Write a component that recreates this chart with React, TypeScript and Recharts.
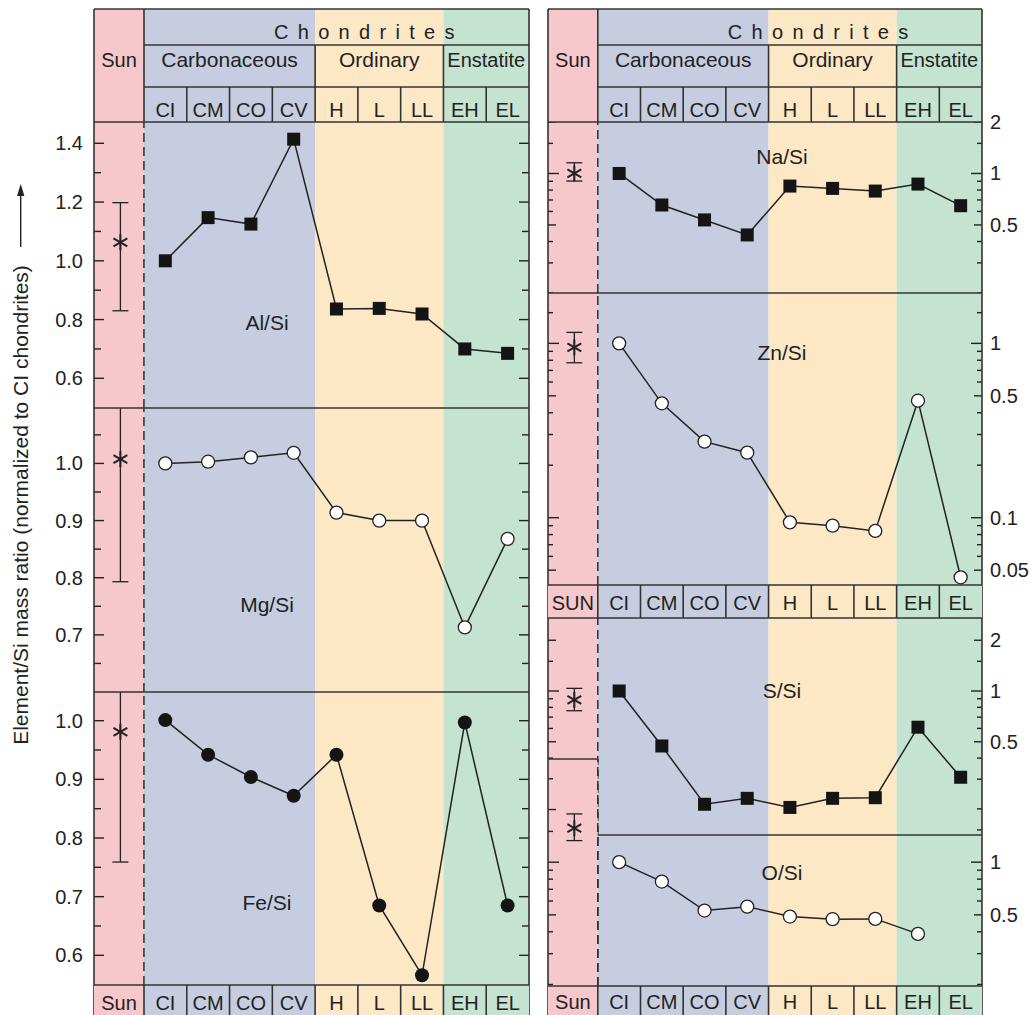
import React from 'react';
import { ComposedChart, Line, Scatter, XAxis, YAxis, ReferenceArea, ReferenceLine, ErrorBar } from 'recharts';

const FONT = '"Liberation Sans", Arial, Helvetica, sans-serif';
const INK = '#222';
const SUN_FILL = '#f6c7cb';

// chondrite classes and groups
const CATEGORIES = ['CI', 'CM', 'CO', 'CV', 'H', 'L', 'LL', 'EH', 'EL'];
const GROUPS = ['Carbonaceous', 'Ordinary', 'Enstatite'];
const GROUP_SPANS = [[0, 4], [4, 7], [7, 9]];
const GROUP_FILLS = ['#c6cde0', '#fde8c5', '#c4e3d0'];

// element/Si ratios, normalized to CI
const alSi = [1.0, 1.147, 1.125, 1.414, 0.836, 0.838, 0.819, 0.7, 0.685];
const mgSi = [1.0, 1.003, 1.0105, 1.0186, 0.914, 0.9, 0.9, 0.713, 0.868];
const feSi = [1.001, 0.942, 0.904, 0.872, 0.942, 0.685, 0.566, 0.997, 0.685];
const naSi = [1.0, 0.654, 0.535, 0.437, 0.844, 0.818, 0.789, 0.867, 0.648];
const znSi = [1.0, 0.453, 0.273, 0.236, 0.094, 0.09, 0.084, 0.469, 0.0455];
const sSi = [1.0, 0.472, 0.213, 0.231, 0.204, 0.231, 0.233, 0.61, 0.308];
const oSi = [1.0, 0.775, 0.529, 0.557, 0.489, 0.472, 0.474, 0.389, null];

// Sun: value, lower, upper
const sunAl = [1.063, 0.83, 1.198];
const sunMg = [1.0075, 0.793, 1.25];
const sunFe = [0.981, 0.759, 1.2];
const sunNa = [1.0, 0.903, 1.155];
const sunZn = [0.948, 0.774, 1.156];
const sunS = [0.885, 0.764, 1.037];
const sunO = [1.564, 1.329, 1.888];

// axis ticks
const alTicks = [0.6, 0.7, 0.8, 0.9, 1.0, 1.1, 1.2, 1.3, 1.4];
const alLabels = [0.6, 0.8, 1.0, 1.2, 1.4];
const mgTicks = [0.65, 0.7, 0.75, 0.8, 0.85, 0.9, 0.95, 1.0, 1.05];
const mgLabels = [0.7, 0.8, 0.9, 1.0];
const feTicks = [0.6, 0.65, 0.7, 0.75, 0.8, 0.85, 0.9, 0.95, 1.0];
const feLabels = [0.6, 0.7, 0.8, 0.9, 1.0];
const naTicks = [2, 1.5, 1, 0.9, 0.8, 0.7, 0.6, 0.5, 0.4, 0.3, 0.2];
const naLabels = [2, 1, 0.5];
const znTicks = [1.5, 1, 0.9, 0.8, 0.7, 0.6, 0.5, 0.4, 0.3, 0.2, 0.1, 0.09, 0.08, 0.07, 0.06, 0.05];
const znLabels = [1, 0.5, 0.1, 0.05];
const sTicks = [2, 1.5, 1, 0.9, 0.8, 0.7, 0.6, 0.5, 0.4, 0.3, 0.2, 0.15];
const sLabels = [2, 1, 0.5];
const oTicks = [1, 0.9, 0.8, 0.7, 0.6, 0.5, 0.4, 0.3, 0.2];
const oLabels = [1, 0.5];
const sunOTicks = [3, 2, 1.5, 1, 0.9, 0.8, 0.7, 0.6, 0.5, 0.4, 0.3, 0.2];

const SUN_W = 1.167;
const SUN_X = -0.55;
const LEFT = { x0: 94, s: 144, x1: 529 };
const RIGHT = { x0: 548, s: 597.8, x1: 982 };

const near = (a: number, b: number) => Math.abs(a - b) < 1e-9;

const makeTick = (side: 'left' | 'right', lenOf: (v: number) => number, labels: number[] | null, fmt: (v: number) => string) =>
  (props: any) => {
    const { x, y, payload } = props;
    const v = payload.value;
    const dir = side === 'left' ? 1 : -1;
    const show = labels && labels.some((l) => near(l, v));
    return (
      <g>
        <line x1={x} x2={x + dir * lenOf(v)} y1={y} y2={y} stroke={INK} strokeWidth={1.4} />
        {show ? (
          <text x={side === 'left' ? x - 11 : x + 8} y={y + 7} textAnchor={side === 'left' ? 'end' : 'start'} fontSize={20} fontFamily={FONT} fill={INK}>
            {fmt(v)}
          </text>
        ) : null}
      </g>
    );
  };

const dotFor = (m: string) => (p: any) => {
  const { cx, cy, index } = p;
  if (cx == null || cy == null || (p.payload && p.payload.v == null)) return <g key={'n' + index} />;
  if (m === 'square') return <rect key={'s' + index} x={cx - 6.5} y={cy - 6.5} width={13} height={13} fill="#141414" />;
  if (m === 'open') return <circle key={'o' + index} cx={cx} cy={cy} r={6.5} fill="#fff" stroke={INK} strokeWidth={1.3} />;
  return <circle key={'f' + index} cx={cx} cy={cy} r={7} fill="#141414" />;
};

const Star = (p: any) => {
  const { cx, cy } = p;
  const r = 8;
  const c = r * Math.cos(Math.PI / 6);
  const s = r * 0.5;
  return (
    <g stroke={INK} strokeWidth={2}>
      <line x1={cx} y1={cy - r} x2={cx} y2={cy + r} />
      <line x1={cx - c} y1={cy - s} x2={cx + c} y2={cy + s} />
      <line x1={cx - c} y1={cy + s} x2={cx + c} y2={cy - s} />
    </g>
  );
};

type PanelProps = {
  side: 'L' | 'R';
  top: number;
  height: number;
  scale: 'linear' | 'log';
  domain: [number, number];
  ticks: number[];
  labels: number[];
  values?: (number | null)[];
  marker?: string;
  sun?: number[];
  bands?: boolean;
  leftTicks?: boolean;
  rightTicks?: boolean;
  padTop?: number;
};

function Panel(props: PanelProps) {
  const { side, top, height, scale, domain, ticks, labels, values, marker, sun } = props;
  const padTop = props.padTop || 0;
  const bands = props.bands !== false;
  const isL = side === 'L';
  const frame = isL ? LEFT : RIGHT;
  const leftW = isL ? 54 : 1;
  const rightW = isL ? 1 : 48;
  const width = leftW + (frame.x1 - frame.x0) + rightW;
  const lenOf = scale === 'linear'
    ? (v: number) => (labels.some((l) => near(l, v)) ? 10 : 7)
    : (v: number) => (near(v, 1) || near(v, 0.1) ? 11 : [2, 0.5, 0.05].some((l) => near(l, v)) ? 8 : 5);
  const fmt = scale === 'linear' ? (v: number) => v.toFixed(1) : (v: number) => String(v);
  const none = () => <g />;
  const leftTick = props.leftTicks === false ? none : makeTick('left', lenOf, isL ? labels : null, fmt);
  const rightTick = props.rightTicks === false ? none : makeTick('right', lenOf, isL ? null : labels, fmt);
  const rows = (values || []).map((v, i) => ({ x: i + 0.5, v, cat: CATEGORIES[i] }));
  const sunRows = sun ? [{ x: SUN_X, v: sun[0], err: [sun[0] - sun[1], sun[2] - sun[0]] }] : [];
  const axisCommon = {
    type: 'number' as const,
    scale,
    domain,
    allowDataOverflow: true,
    ticks,
    interval: 0 as const,
    tickSize: 0,
    tickMargin: 0,
    tickLine: false,
    axisLine: false,
  };
  return (
    <div style={{ position: 'absolute', left: frame.x0 - leftW, top: top - padTop }}>
      <ComposedChart width={width} height={height + padTop} data={rows} margin={{ top: padTop, right: 0, bottom: 0, left: 0 }}>
        <XAxis type="number" dataKey="x" domain={[-SUN_W, 9]} hide allowDataOverflow />
        <YAxis yAxisId="l" orientation="left" width={leftW} {...axisCommon} tick={leftTick} />
        <YAxis yAxisId="r" orientation="right" width={rightW} {...axisCommon} tick={rightTick} />
        <ReferenceArea yAxisId="l" x1={-SUN_W} x2={0} fill={SUN_FILL} fillOpacity={1} stroke="none" />
        {bands
          ? GROUP_SPANS.map(([a, b], i) => (
              <ReferenceArea key={GROUPS[i]} yAxisId="l" x1={a} x2={b} fill={GROUP_FILLS[i]} fillOpacity={1} stroke="none" />
            ))
          : null}
        <ReferenceLine yAxisId="l" x={0} stroke={INK} strokeWidth={1.4} strokeDasharray="9 5" />
        {values ? (
          <Line yAxisId="l" type="linear" dataKey="v" stroke={INK} strokeWidth={1.5} dot={dotFor(marker || 'square')} activeDot={false} isAnimationActive={false} connectNulls={false} />
        ) : null}
        {sun ? (
          <Scatter yAxisId="l" data={sunRows} dataKey="v" shape={Star} isAnimationActive={false}>
            <ErrorBar dataKey="err" direction="y" width={8} stroke={INK} strokeWidth={1.3} />
          </Scatter>
        ) : null}
      </ComposedChart>
    </div>
  );
}

function Frame() {
  const els: React.ReactNode[] = [];
  const line = (k: string, x1: number, y1: number, x2: number, y2: number) =>
    els.push(<line key={k} x1={x1} y1={y1} x2={x2} y2={y2} stroke="#333" strokeWidth={1.6} />);
  const txt = (k: string, x: number, y: number, s: string, size = 20, anchor = 'middle', extra: any = {}) =>
    els.push(
      <text key={k} x={x} y={y} fontSize={size} fontFamily={FONT} fill={INK} textAnchor={anchor} {...extra}>
        {s}
      </text>
    );

  const labelRow = (id: string, P: typeof LEFT, y0: number, y1: number, base: number, sunText: string) => {
    const cw = (P.x1 - P.s) / 9;
    els.push(<rect key={id + 'sr'} x={P.x0} y={y0} width={P.s - P.x0} height={y1 - y0} fill={SUN_FILL} />);
    GROUP_SPANS.forEach(([a, b], i) =>
      els.push(<rect key={id + 'g' + i} x={P.s + a * cw} y={y0} width={(b - a) * cw} height={y1 - y0} fill={GROUP_FILLS[i]} />)
    );
    txt(id + 'sun', (P.x0 + P.s) / 2, base, sunText);
    CATEGORIES.forEach((c, i) => txt(id + c, P.s + (i + 0.5) * cw, base, c));
    line(id + 't', P.x0, y0, P.x1, y0);
    if (y1 < 1015) line(id + 'b', P.x0, y1, P.x1, y1);
    line(id + 'v', P.s, y0, P.s, y1);
    for (let i = 1; i < 9; i++) line(id + 'c' + i, P.s + i * cw, y0, P.s + i * cw, y1);
  };

  const header = (id: string, P: typeof LEFT) => {
    const cw = (P.x1 - P.s) / 9;
    els.push(<rect key={id + 'sr'} x={P.x0} y={9} width={P.s - P.x0} height={113} fill={SUN_FILL} />);
    GROUP_SPANS.forEach(([a, b], i) =>
      els.push(<rect key={id + 'g' + i} x={P.s + a * cw} y={9} width={(b - a) * cw} height={113} fill={GROUP_FILLS[i]} />)
    );
    txt(id + 'sun', (P.x0 + P.s) / 2, 67, 'Sun');
    txt(id + 'ch', P.s + 130, 38.5, 'Chondrites', 20, 'start', { letterSpacing: 9.3 });
    GROUP_SPANS.forEach(([a, b], i) => txt(id + 'gt' + i, P.s + ((a + b) / 2) * cw, 67, GROUPS[i], i === 2 ? 20 : 21));
    CATEGORIES.forEach((c, i) => txt(id + c, P.s + (i + 0.5) * cw, 117, c));
    line(id + 'top', P.x0, 9, P.x1, 9);
    line(id + 'r1', P.s, 45, P.x1, 45);
    line(id + 'r2', P.s, 87, P.x1, 87);
    line(id + 'r3', P.x0, 122, P.x1, 122);
    line(id + 'l', P.x0, 9, P.x0, 1015);
    line(id + 'r', P.x1, 9, P.x1, 1015);
    line(id + 's', P.s, 9, P.s, 122);
    for (let i = 1; i < 9; i++) line(id + 'c' + i, P.s + i * cw, i === 4 || i === 7 ? 45 : 87, P.s + i * cw, 122);
  };

  header('L', LEFT);
  header('R', RIGHT);
  labelRow('LB', LEFT, 985, 1015, 1010, 'Sun');
  labelRow('RM', RIGHT, 585, 618, 610, 'SUN');
  labelRow('RB', RIGHT, 986, 1015, 1009, 'Sun');

  line('sepAM', LEFT.x0, 408, LEFT.x1, 408);
  line('sepMF', LEFT.x0, 692, LEFT.x1, 692);
  line('sepNZ', RIGHT.x0, 293, RIGHT.x1, 293);
  line('sepSOs', RIGHT.x0, 759, RIGHT.s, 759);
  line('sepSO', RIGHT.s, 835, RIGHT.x1, 835);

  txt('pAl', 267, 329.5, 'Al/Si', 21);
  txt('pMg', 267, 612, 'Mg/Si', 21);
  txt('pFe', 267, 910, 'Fe/Si', 21);
  txt('pNa', 782, 163.5, 'Na/Si', 21);
  txt('pZn', 782, 360, 'Zn/Si', 21);
  txt('pS', 782, 698, 'S/Si', 21);
  txt('pO', 782, 879.5, 'O/Si', 21);

  els.push(
    <text key="ytitle" x={28} y={505} transform="rotate(-90 28 505)" fontSize={21} fontFamily={FONT} fill={INK} textAnchor="middle">
      Element/Si mass ratio (normalized to CI chondrites)
    </text>
  );
  els.push(<line key="arrow" x1={20.7} y1={247} x2={20.7} y2={193} stroke={INK} strokeWidth={1.4} />);
  els.push(<polygon key="arrowhead" points="20.7,184 17,196 24.4,196" fill={INK} />);

  return (
    <svg width={1031} height={1015} style={{ position: 'absolute', left: 0, top: 0, pointerEvents: 'none' }}>
      {els}
    </svg>
  );
}

export default function App() {
  return (
    <div style={{ position: 'absolute', left: 0, top: 0, width: 1031, height: 1015, background: '#fff', overflow: 'hidden' }}>
      <Panel side="L" top={122} height={286} scale="linear" domain={[0.499, 1.4725]} ticks={alTicks} labels={alLabels} values={alSi} marker="square" sun={sunAl} />
      <Panel side="L" top={408} height={284} scale="linear" domain={[0.6, 1.097]} ticks={mgTicks} labels={mgLabels} values={mgSi} marker="open" sun={sunMg} />
      <Panel side="L" top={692} height={293} scale="linear" domain={[0.5494, 1.0489]} ticks={feTicks} labels={feLabels} values={feSi} marker="filled" sun={sunFe} />
      <Panel side="R" top={122} height={171} scale="log" domain={[0.2, 2]} ticks={naTicks} labels={naLabels} values={naSi} marker="square" sun={sunNa} padTop={16} />
      <Panel side="R" top={293} height={292} scale="log" domain={[0.0411, 1.945]} ticks={znTicks} labels={znLabels} values={znSi} marker="open" sun={sunZn} />
      <Panel side="R" top={618} height={217} scale="log" domain={[0.14, 2.71]} ticks={sTicks} labels={sLabels} values={sSi} marker="square" sun={sunS} />
      <Panel side="R" top={835} height={151} scale="log" domain={[0.196, 1.43]} ticks={oTicks} labels={oLabels} values={oSi} marker="open" leftTicks={false} />
      <Panel side="R" top={759} height={227} scale="log" domain={[0.196, 3.89]} ticks={sunOTicks} labels={[]} sun={sunO} bands={false} rightTicks={false} />
      <Frame />
    </div>
  );
}
